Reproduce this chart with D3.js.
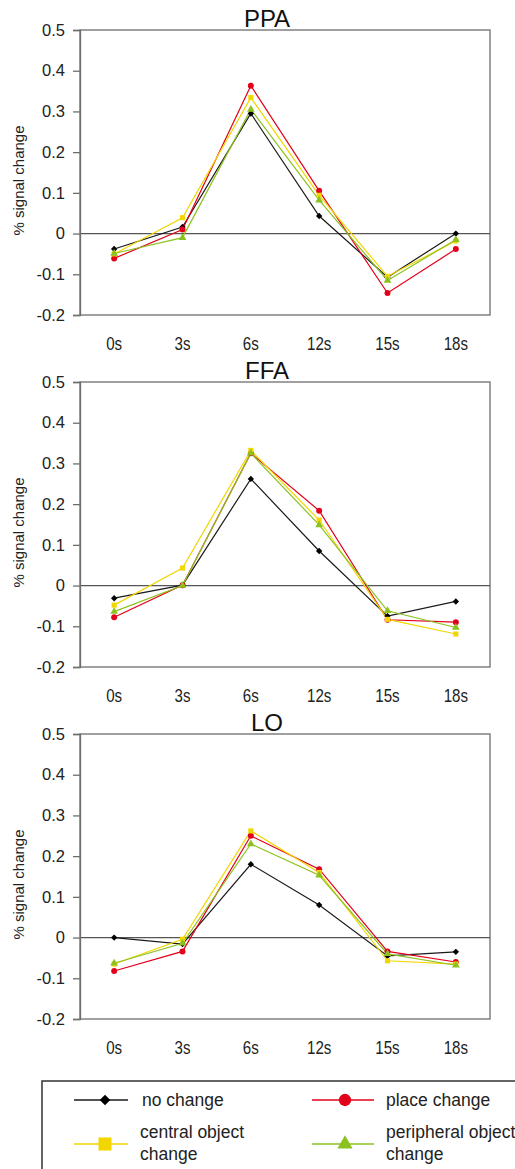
<!DOCTYPE html>
<html>
<head>
<meta charset="utf-8">
<script src="https://cdn.jsdelivr.net/npm/d3@7"></script>
<style>
  body { margin: 0; background: #fff; }
  svg { display: block; }
  text { font-family: 'Liberation Sans', Arial, sans-serif; }
</style>
</head>
<body>
<svg id="chart" width="515" height="1169"></svg>
<script>
// ---------- data ----------
const categories = ["0s", "3s", "6s", "12s", "15s", "18s"];
const yTicks = [-0.2, -0.1, 0, 0.1, 0.2, 0.3, 0.4, 0.5];
const panelTitles = ["PPA", "FFA", "LO"];
const seriesNames = ["no change", "place change", "central object change", "peripheral object change"];

const ppaNoChange   = [-0.038, 0.016, 0.295, 0.043, -0.107, 0.000];
const ppaPlace      = [-0.061, 0.010, 0.363, 0.105, -0.146, -0.038];
const ppaCentral    = [-0.050, 0.039, 0.334, 0.094, -0.105, -0.018];
const ppaPeripheral = [-0.049, -0.010, 0.305, 0.082, -0.115, -0.015];

const ffaNoChange   = [-0.031, 0.001, 0.262, 0.085, -0.075, -0.039];
const ffaPlace      = [-0.078, 0.001, 0.325, 0.184, -0.084, -0.090];
const ffaCentral    = [-0.048, 0.043, 0.332, 0.161, -0.083, -0.119];
const ffaPeripheral = [-0.064, 0.000, 0.325, 0.149, -0.062, -0.103];

const loNoChange    = [0.000, -0.016, 0.180, 0.080, -0.045, -0.035];
const loPlace       = [-0.082, -0.034, 0.250, 0.168, -0.034, -0.060];
const loCentral     = [-0.065, -0.004, 0.262, 0.160, -0.057, -0.065];
const loPeripheral  = [-0.063, -0.014, 0.230, 0.153, -0.040, -0.068];

const panels = [
  [ppaNoChange, ppaPlace, ppaCentral, ppaPeripheral],
  [ffaNoChange, ffaPlace, ffaCentral, ffaPeripheral],
  [loNoChange, loPlace, loCentral, loPeripheral]
];

// ---------- styles ----------
const lineColors = ["#1a1a1a", "#e2001a", "#f2d600", "#8cc21f"];
const markerColors = ["#000000", "#e2001a", "#f2d600", "#8cc21f"];
const diamond = d3.symbolDiamond2 || d3.symbolDiamond;
const symbols = [diamond, d3.symbolCircle, d3.symbolSquare, d3.symbolTriangle];
const symSizes = [26, 28, 26, 26];
const legendSymSizes = [70, 120, 170, 100];

const svg = d3.select("#chart");

const left = 80, right = 490, plotH = 285;
const tops = [30, 382, 734];

const x = d3.scaleBand().domain(categories).range([left, right]).padding(0);

panels.forEach((series, pi) => {
  const top = tops[pi];
  const bottom = top + plotH;
  const y = d3.scaleLinear().domain([-0.2, 0.5]).range([bottom, top]);
  const g = svg.append("g");

  // frame
  g.append("rect")
    .attr("x", left).attr("y", top)
    .attr("width", right - left).attr("height", plotH)
    .attr("fill", "none").attr("stroke", "#6e6e6e").attr("stroke-width", 1.3);

  // zero line
  g.append("line")
    .attr("x1", left).attr("x2", right)
    .attr("y1", y(0)).attr("y2", y(0))
    .attr("stroke", "#555").attr("stroke-width", 1.2);

  // y axis
  const ya = g.append("g").attr("transform", `translate(${left},0)`)
    .call(d3.axisLeft(y).tickValues(yTicks)
      .tickFormat(d => d === 0 ? "0" : d.toFixed(1))
      .tickSize(7).tickPadding(8));
  ya.select(".domain").attr("stroke", "#6e6e6e").attr("stroke-width", 1.3);
  ya.selectAll(".tick line").attr("stroke", "#6e6e6e").attr("stroke-width", 1.3);
  ya.selectAll(".tick text")
    .attr("font-size", 16.5).attr("fill", "#222")
    .style("font-family", "'Liberation Sans', Arial, sans-serif");

  // x axis labels (condensed look)
  const xa = g.append("g").attr("transform", `translate(0,${bottom + 22})`)
    .call(d3.axisBottom(x).tickSize(0).tickPadding(0));
  xa.select(".domain").remove();
  xa.selectAll(".tick text")
    .attr("font-size", 18).attr("fill", "#222")
    .attr("dy", "0.71em")
    .attr("transform", "scale(0.84,1)")
    .style("font-family", "'Liberation Sans', Arial, sans-serif");

  // y label
  g.append("text")
    .attr("transform", `translate(24,${(top + bottom) / 2 + 8}) rotate(-90)`)
    .attr("text-anchor", "middle")
    .attr("font-size", 15).attr("fill", "#222")
    .text("% signal change");

  // title
  g.append("text")
    .attr("x", 267).attr("y", top - 3)
    .attr("text-anchor", "middle")
    .attr("font-size", 24).attr("fill", "#111")
    .text(panelTitles[pi]);

  // series
  const line = d3.line()
    .x((d, i) => x(categories[i]) + x.bandwidth() / 2)
    .y(d => y(d));

  series.forEach((vals, si) => {
    g.append("path")
      .datum(vals)
      .attr("d", line)
      .attr("fill", "none")
      .attr("stroke", lineColors[si])
      .attr("stroke-width", 1.2);
  });
  series.forEach((vals, si) => {
    g.selectAll(null)
      .data(vals)
      .enter().append("path")
      .attr("d", d3.symbol().type(symbols[si]).size(symSizes[si]))
      .attr("transform", (d, i) => `translate(${x(categories[i]) + x.bandwidth() / 2},${y(d)})`)
      .attr("fill", markerColors[si]);
  });
});

// ---------- legend ----------
const lg = svg.append("g");
lg.append("rect")
  .attr("x", 42).attr("y", 1081)
  .attr("width", 500).attr("height", 120)
  .attr("fill", "none").attr("stroke", "#333").attr("stroke-width", 1.5);

const legendItems = [
  { si: 0, lx1: 74, lx2: 128, mx: 105, my: 1100, tx: 142, lines: ["no change"] },
  { si: 1, lx1: 312, lx2: 374, mx: 345, my: 1100, tx: 386, lines: ["place change"] },
  { si: 2, lx1: 74, lx2: 128, mx: 105, my: 1144, tx: 140, lines: ["central object", "change"] },
  { si: 3, lx1: 312, lx2: 374, mx: 345, my: 1144, tx: 386, lines: ["peripheral object", "change"] }
];

legendItems.forEach(it => {
  lg.append("line")
    .attr("x1", it.lx1).attr("x2", it.lx2)
    .attr("y1", it.my).attr("y2", it.my)
    .attr("stroke", lineColors[it.si]).attr("stroke-width", 1.3);
  lg.append("path")
    .attr("d", d3.symbol().type(symbols[it.si]).size(legendSymSizes[it.si]))
    .attr("transform", `translate(${it.mx},${it.my})`)
    .attr("fill", markerColors[it.si]);
  const t = lg.append("text")
    .attr("x", it.tx)
    .attr("font-size", 17.5).attr("fill", "#222");
  if (it.lines.length === 1) {
    t.attr("y", it.my + 6).text(it.lines[0]);
  } else {
    t.attr("y", it.my - 6).text(it.lines[0]);
    lg.append("text").attr("x", it.tx).attr("y", it.my + 16)
      .attr("font-size", 17.5).attr("fill", "#222").text(it.lines[1]);
  }
});
</script>
</body>
</html>
